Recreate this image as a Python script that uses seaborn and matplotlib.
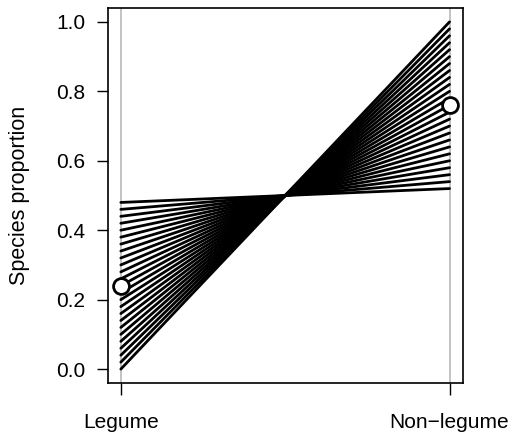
import matplotlib
matplotlib.use("Agg")
import matplotlib.pyplot as plt
import seaborn as sns
import pandas as pd

categories = ["Legume", "Non\u2212legume"]
legume_start = [0.00, 0.02, 0.04, 0.06, 0.08, 0.10, 0.12, 0.14, 0.16, 0.18,
                0.20, 0.22, 0.24, 0.26, 0.28, 0.30, 0.32, 0.34, 0.36, 0.38,
                0.40, 0.42, 0.44, 0.46, 0.48]
nonlegume_end = [1.00, 0.98, 0.96, 0.94, 0.92, 0.90, 0.88, 0.86, 0.84, 0.82,
                 0.80, 0.78, 0.76, 0.74, 0.72, 0.70, 0.68, 0.66, 0.64, 0.62,
                 0.60, 0.58, 0.56, 0.54, 0.52]
observed = [0.24, 0.76]
y_ticks = [0.0, 0.2, 0.4, 0.6, 0.8, 1.0]

sns.set_style("white")
plt.rcParams["font.family"] = ["Liberation Sans", "DejaVu Sans"]
plt.rcParams["text.color"] = "black"
plt.rcParams["axes.labelcolor"] = "black"

rows = []
for i, (a, b) in enumerate(zip(legume_start, nonlegume_end)):
    rows.append({"line": i, "pos": 0, "prop": a})
    rows.append({"line": i, "pos": 1, "prop": b})
df = pd.DataFrame(rows)
obs = pd.DataFrame({"pos": [0, 1], "prop": observed})

fig = plt.figure(figsize=(5.14, 4.34), dpi=100)
ax = fig.add_axes([0.2095, 0.1175, 0.6907, 0.8641])

for p in range(len(categories)):
    ax.axvline(p, color="#bebebe", lw=1.3, zorder=1)

sns.lineplot(data=df, x="pos", y="prop", units="line", estimator=None,
             color="black", lw=2.0, ax=ax, zorder=2, legend=False)
sns.scatterplot(data=obs, x="pos", y="prop", ax=ax, s=130, color="white",
                edgecolor="black", linewidth=2, zorder=3, legend=False,
                clip_on=False)

fs = 15
ax.set_xlim(-0.04, 1.04)
ax.set_ylim(-0.04, 1.04)
ax.set_xticks(range(len(categories)))
ax.set_xticklabels(categories, fontsize=fs)
ax.set_yticks(y_ticks)
ax.set_yticklabels([f"{v:.1f}" for v in y_ticks], fontsize=fs)
ax.set_xlabel("")
ax.set_ylabel("Species proportion", fontsize=15.5, labelpad=19, color="black")
ax.tick_params(axis="y", direction="out", length=8, width=1, color="black",
               pad=8, left=True, labelcolor="black")
ax.tick_params(axis="x", direction="out", length=8.5, width=1, color="black",
               pad=13, bottom=True, labelcolor="black")
for s in ax.spines.values():
    s.set_visible(True)
    s.set_color("black")
    s.set_linewidth(1.2)

fig.savefig("out.png", dpi=100, facecolor="white")
